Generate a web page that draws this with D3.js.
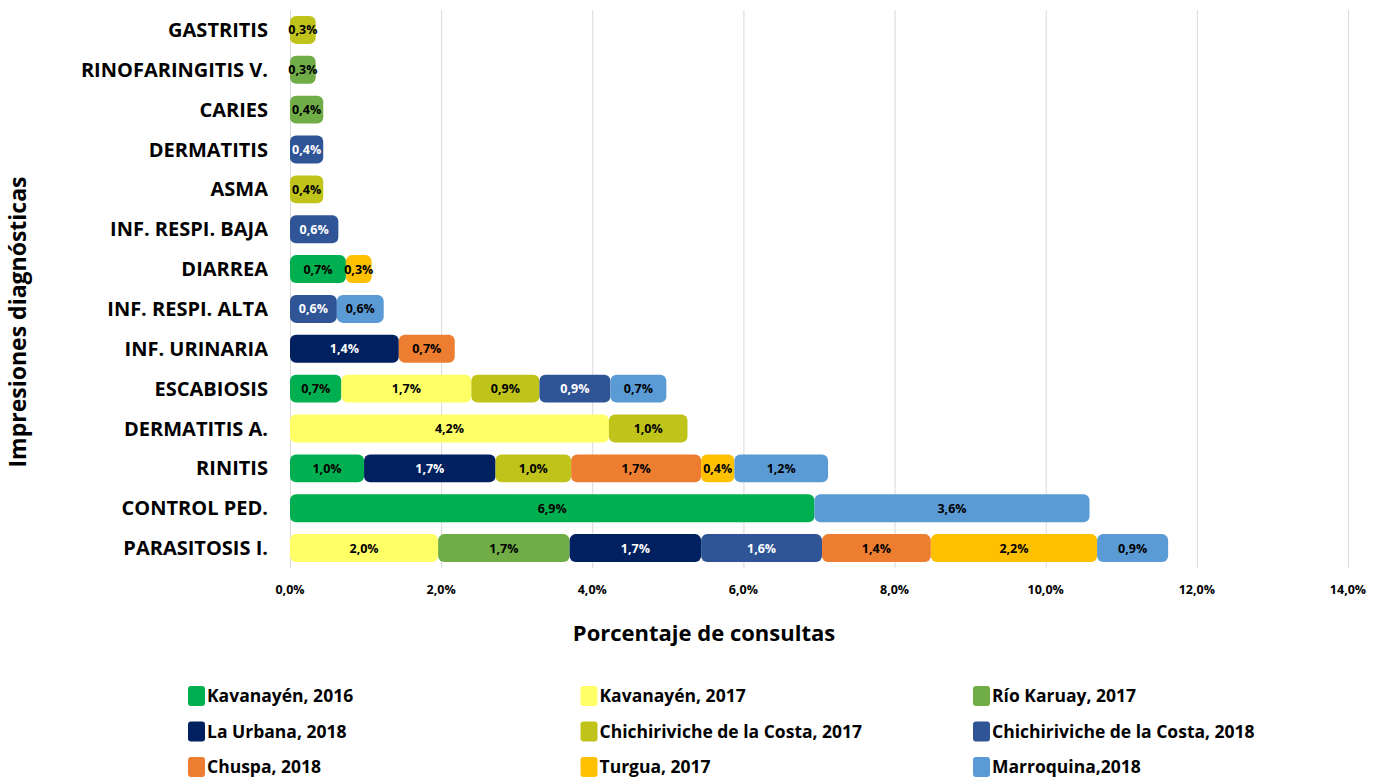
<!DOCTYPE html>
<meta charset="utf-8">
<style>
body { margin: 0; background: #fff; }
svg text { font-family: "Open Sans", sans-serif; font-weight: bold; }
.grid line { stroke: #d9d9d9; stroke-width: 1; }
.grid .domain { display: none; }
</style>
<svg width="1380" height="778"></svg>
<script src="https://d3js.org/d3.v7.min.js"></script>
<script>
'use strict';

// categories top to bottom
var categories = ["GASTRITIS", "RINOFARINGITIS V.", "CARIES", "DERMATITIS", "ASMA", "INF. RESPI. BAJA",
  "DIARREA", "INF. RESPI. ALTA", "INF. URINARIA", "ESCABIOSIS", "DERMATITIS A.", "RINITIS",
  "CONTROL PED.", "PARASITOSIS I."];

var seriesNames = ["Kavanayén, 2016", "Kavanayén, 2017", "Río Karuay, 2017", "La Urbana, 2018",
  "Chichiriviche de la Costa, 2017", "Chichiriviche de la Costa, 2018", "Chuspa, 2018",
  "Turgua, 2017", "Marroquina,2018"];

var seriesColors = ["#00b050", "#ffff66", "#70ad47", "#002060", "#bfc31a", "#2f5597",
  "#ed7d31", "#ffc000", "#5b9bd5"];

var darkSeries = ["La Urbana, 2018", "Chichiriviche de la Costa, 2018"];

// values in %, same order as categories
var kavanayen2016 = [0, 0, 0, 0, 0, 0, 0.74, 0, 0, 0.68, 0, 0.98, 6.94, 0];
var kavanayen2017 = [0, 0, 0, 0, 0, 0, 0, 0, 0, 1.72, 4.22, 0, 0, 1.96];
var rioKaruay2017 = [0, 0.34, 0.44, 0, 0, 0, 0, 0, 0, 0, 0, 0, 0, 1.74];
var laUrbana2018 = [0, 0, 0, 0, 0, 0, 0, 0, 1.44, 0, 0, 1.74, 0, 1.74];
var chichi2017 = [0.34, 0, 0, 0, 0.44, 0, 0, 0, 0, 0.9, 1.04, 1.0, 0, 0];
var chichi2018 = [0, 0, 0, 0.44, 0, 0.64, 0, 0.62, 0, 0.94, 0, 0, 0, 1.6];
var chuspa2018 = [0, 0, 0, 0, 0, 0, 0, 0, 0.74, 0, 0, 1.72, 0, 1.44];
var turgua2017 = [0, 0, 0, 0, 0, 0, 0.34, 0, 0, 0, 0, 0.44, 0, 2.2];
var marroquina2018 = [0, 0, 0, 0, 0, 0, 0, 0.62, 0, 0.74, 0, 1.24, 3.64, 0.94];

var xTicks = [0, 2, 4, 6, 8, 10, 12, 14];

var seriesValues = [kavanayen2016, kavanayen2017, rioKaruay2017, laUrbana2018, chichi2017,
  chichi2018, chuspa2018, turgua2017, marroquina2018];

var table = categories.map(function(c, i) {
  var row = {cat: c};
  seriesNames.forEach(function(s, j) { row[s] = seriesValues[j][i]; });
  return row;
});

var stacked = d3.stack().keys(seriesNames)(table);

var svg = d3.select("svg");
var margin = {top: 10, left: 290, right: 32, bottom: 210};
var width = 1380 - margin.left - margin.right,
    height = 778 - margin.top - margin.bottom;

var x = d3.scaleLinear().domain([0, 14]).range([0, width]);
var y = d3.scaleBand().domain(categories).range([0, height]).paddingInner(0.3).paddingOuter(0.15);
var color = d3.scaleOrdinal().domain(seriesNames).range(seriesColors);
var fmt = function(v) { return d3.format(".1f")(v).replace(".", ",") + "%"; };

var g = svg.append("g").attr("transform", "translate(" + margin.left + "," + margin.top + ")");

g.append("g").attr("class", "grid")
  .call(d3.axisBottom(x).tickValues(xTicks).tickSize(height).tickFormat(""));

var layers = g.selectAll(".layer").data(stacked).enter().append("g")
  .attr("class", "layer")
  .attr("fill", function(d) { return color(d.key); });

layers.selectAll("rect")
  .data(function(d) { return d.filter(function(p) { return p[1] - p[0] > 0; }); })
  .enter().append("rect")
  .attr("x", function(d) { return x(d[0]); })
  .attr("y", function(d) { return y(d.data.cat); })
  .attr("width", function(d) { return x(d[1]) - x(d[0]); })
  .attr("height", y.bandwidth())
  .attr("rx", 6);

layers.each(function(s) {
  d3.select(this).selectAll("text")
    .data(s.filter(function(p) { return p[1] - p[0] > 0; }))
    .enter().append("text")
    .attr("x", function(d) { return x((d[0] + d[1]) / 2); })
    .attr("y", function(d) { return y(d.data.cat) + y.bandwidth() / 2; })
    .attr("dy", "0.36em")
    .attr("text-anchor", "middle")
    .attr("font-size", 12.5)
    .attr("fill", darkSeries.indexOf(s.key) >= 0 ? "#fff" : "#000")
    .text(function(d) { return fmt(d[1] - d[0]); });
});

// category labels
g.selectAll(".cat").data(categories).enter().append("text")
  .attr("class", "cat")
  .attr("x", -22)
  .attr("y", function(d) { return y(d) + y.bandwidth() / 2; })
  .attr("dy", "0.35em")
  .attr("text-anchor", "end")
  .attr("font-size", 20)
  .attr("fill", "#000")
  .text(function(d) { return d; });

// x tick labels
g.selectAll(".xt").data(xTicks).enter().append("text")
  .attr("x", function(d) { return x(d); })
  .attr("y", height + 26)
  .attr("text-anchor", "middle")
  .attr("font-size", 12.5)
  .attr("fill", "#000")
  .text(function(d) { return d3.format(".1f")(d).replace(".", ",") + "%"; });

svg.append("text")
  .attr("x", 704).attr("y", 641)
  .attr("text-anchor", "middle")
  .attr("font-size", 22)
  .text("Porcentaje de consultas");

svg.append("text")
  .attr("transform", "translate(26,322) rotate(-90)")
  .attr("text-anchor", "middle")
  .attr("font-size", 23)
  .text("Impresiones diagnósticas");

// legend
var legend = svg.append("g").selectAll("g").data(seriesNames).enter().append("g")
  .attr("transform", function(d, i) {
    return "translate(" + (188 + (i % 3) * 392.5) + "," + (696 + Math.floor(i / 3) * 35.5) + ")";
  });

legend.append("rect")
  .attr("x", 0).attr("y", -10)
  .attr("width", 17).attr("height", 20)
  .attr("rx", 3)
  .attr("fill", color);

legend.append("text")
  .attr("x", 19)
  .attr("dy", "0.35em")
  .attr("font-size", 17.5)
  .text(function(d) { return d; });
</script>
